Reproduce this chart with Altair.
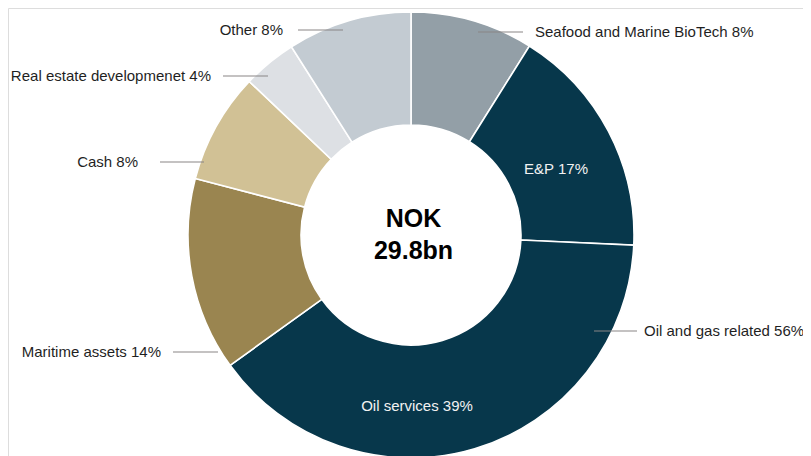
import altair as alt
import pandas as pd

# ---- data ----
categories = ["Seafood and Marine BioTech", "E&P", "Oil services", "Maritime assets",
              "Cash", "Real estate developmenet", "Other"]
shares = [8.9, 16.8, 39.3, 14.0, 8.0, 3.9, 9.0]
labels = ["Seafood and Marine BioTech 8%", "E&P 17%", "Oil services 39%",
          "Maritime assets 14%", "Cash 8%", "Real estate developmenet 4%", "Other 8%"]
group_label = "Oil and gas related 56%"
center_lines = ["NOK", "29.8bn"]

# ---- styles ----
colors = ["#939FA7", "#07374B", "#07374B", "#9A8550", "#D1C195", "#DDE0E4", "#C3CBD2"]
FONT = "Liberation Sans"
TEXT_COLOR = "#1f1f1f"
LINE_COLOR = "#8a8585"

# ---- layout (page pixel coordinates; view origin is at 8,8) ----
OFF = 8
W, H = 795, 448
CX, CY = 411, 235
label_x = [535, 556, 417, 161, 138, 211, 283]
label_y = [32, 169, 406, 352, 162, 76, 29.5]
label_align = ["left", "center", "center", "right", "right", "right", "right"]
label_color = [TEXT_COLOR, "#f2f2f2", "#f2f2f2", TEXT_COLOR, TEXT_COLOR, TEXT_COLOR, TEXT_COLOR]
lead_x1 = [478, None, None, 173, 160, 223, 298]
lead_x2 = [523, None, None, 218, 204, 268, 343]
lead_y = [32, None, None, 352, 162, 76, 30]
group_pos = (644, 331)
group_lead = (594, 637, 331)
center_x = 413.5
center_y = [218.5, 250.5]

pie_df = pd.DataFrame({"category": categories, "share": shares,
                       "idx": list(range(len(categories)))})

arcs = alt.Chart(pie_df).mark_arc(
    innerRadius=110, outerRadius=223, stroke="white", strokeWidth=1.6
).encode(
    theta=alt.Theta("share:Q", stack=True),
    order=alt.Order("idx:Q"),
    color=alt.Color("category:N", scale=alt.Scale(domain=categories, range=colors), legend=None),
    x=alt.value(CX - OFF),
    y=alt.value(CY - OFF),
)

lab_df = pd.DataFrame({
    "text": labels + [group_label],
    "x": [v - OFF for v in label_x] + [group_pos[0] - OFF],
    "y": [v - OFF for v in label_y] + [group_pos[1] - OFF],
    "align": label_align + ["left"],
    "color": label_color + [TEXT_COLOR],
})

layers = [arcs]

lead_rows = [(a - OFF, b - OFF, y - OFF) for a, b, y in zip(lead_x1, lead_x2, lead_y) if a is not None]
lead_rows.append((group_lead[0] - OFF, group_lead[1] - OFF, group_lead[2] - OFF))
lead_df = pd.DataFrame(lead_rows, columns=["x", "x2", "y"])
leads = alt.Chart(lead_df).mark_rule(color=LINE_COLOR, strokeWidth=1.2).encode(
    x=alt.X("x:Q", scale=None, axis=None),
    x2="x2:Q",
    y=alt.Y("y:Q", scale=None, axis=None),
    y2="y:Q",
)
layers.append(leads)

for al in ["left", "center", "right"]:
    sub = lab_df[lab_df["align"] == al]
    layers.append(
        alt.Chart(sub).mark_text(align=al, baseline="middle", font=FONT, fontSize=15).encode(
            x=alt.X("x:Q", scale=None, axis=None),
            y=alt.Y("y:Q", scale=None, axis=None),
            text="text:N",
            color=alt.Color("color:N", scale=None, legend=None),
        )
    )

center_df = pd.DataFrame({"text": center_lines, "y": [v - OFF for v in center_y]})
center = alt.Chart(center_df).mark_text(
    align="center", baseline="middle", font=FONT, fontSize=25, fontWeight="bold", color="#000000"
).encode(
    x=alt.value(center_x - OFF),
    y=alt.Y("y:Q", scale=None, axis=None),
    text="text:N",
)
layers.append(center)

chart = alt.layer(*layers).properties(
    width=W, height=H, padding=0, autosize=alt.AutoSizeParams(type="none")
).configure_view(stroke="transparent", strokeWidth=0).configure_axis(
    domain=False, ticks=False, labels=False, grid=False
).configure(background="#ffffff")

chart.save("out.html", embed_options={"renderer": "svg", "actions": False})
